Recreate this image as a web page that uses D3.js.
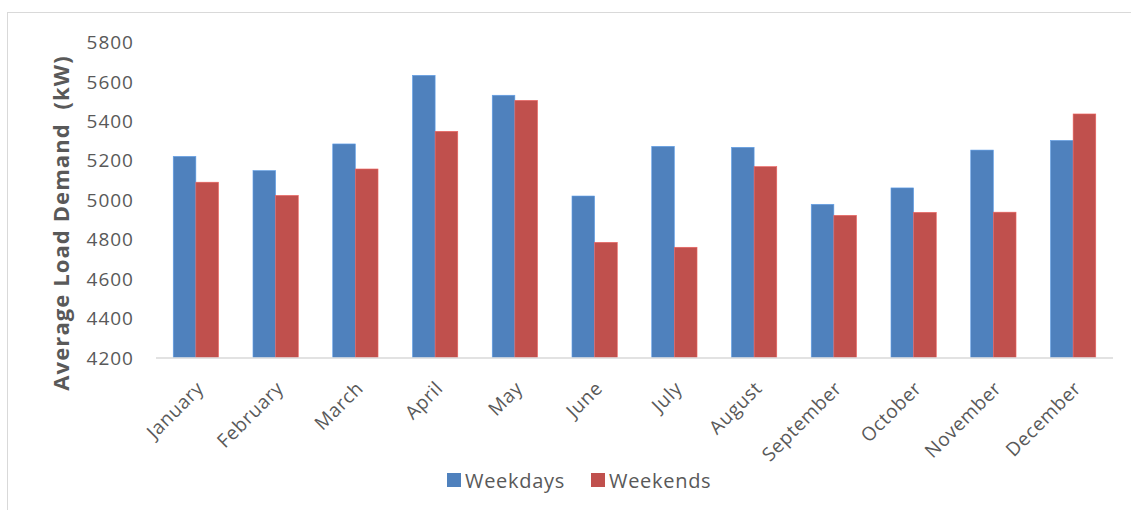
<!DOCTYPE html>
<html>
<head>
<meta charset="utf-8">
<script src="https://cdn.jsdelivr.net/npm/d3@7"></script>
<style>
  html, body { margin: 0; padding: 0; background: #fff; }
  svg { display: block; }
  text { font-family: "Open Sans", sans-serif; fill: #595959; }
</style>
</head>
<body>
<svg id="chart" width="1131" height="510"></svg>
<script>
const months = ["January","February","March","April","May","June","July","August","September","October","November","December"];
const weekdays = [5220, 5148, 5283, 5631, 5530, 5019, 5271, 5266, 4977, 5060, 5252, 5301];
const weekends = [5089, 5022, 5156, 5347, 5504, 4784, 4759, 5168, 4921, 4936, 4937, 5435];
const seriesNames = ["Weekdays", "Weekends"];
const seriesColors = ["#4F81BD", "#C0504D"];
const yTicks = [4200, 4400, 4600, 4800, 5000, 5200, 5400, 5600, 5800];

const svg = d3.select("#chart");

// outer frame
svg.append("rect").attr("x", 7.5).attr("y", 12.5).attr("width", 1140).attr("height", 520)
  .attr("fill", "none").attr("stroke", "#d9d9d9").attr("stroke-width", 1);

const plot = { left: 156, right: 1113, top: 42, bottom: 357.5 };

const x = d3.scaleBand().domain(months).range([plot.left, plot.right]).padding(0);
const y = d3.scaleLinear().domain([4200, 5800]).range([plot.bottom, plot.top]);

const barW = x.bandwidth() * 0.284;
const series = [weekdays, weekends];

series.forEach((vals, si) => {
  svg.append("g").selectAll("rect").data(months).join("rect")
    .attr("x", m => x(m) + x.bandwidth() / 2 - barW + si * barW)
    .attr("y", (m, i) => y(vals[i]))
    .attr("width", barW)
    .attr("height", (m, i) => y(4200) - y(vals[i]))
    .attr("fill", seriesColors[si])
    .attr("stroke", d3.color(seriesColors[si]).brighter(0.6))
    .attr("stroke-width", 0.6);
});

// x axis line
svg.append("line").attr("x1", plot.left).attr("x2", plot.right)
  .attr("y1", plot.bottom + 0.5).attr("y2", plot.bottom + 0.5)
  .attr("stroke", "#d9d9d9").attr("stroke-width", 1.5);

// y axis labels
const yAxis = d3.axisLeft(y).tickValues(yTicks).tickSize(0).tickPadding(0).tickFormat(d3.format("d"));
const yg = svg.append("g").attr("transform", `translate(134,0)`).call(yAxis);
yg.select(".domain").remove();
yg.selectAll("text").attr("font-size", 19).attr("letter-spacing", 1)
  .style("font-family", '"Open Sans", sans-serif').attr("fill", "#595959").attr("dy", "0.35em");

// x axis labels
const xAxis = d3.axisBottom(x).tickSize(0).tickPadding(0);
const xg = svg.append("g").attr("transform", `translate(0,${plot.bottom})`).call(xAxis);
xg.select(".domain").remove();
xg.selectAll("text")
  .attr("font-size", 19)
  .attr("letter-spacing", 0.6)
  .style("font-family", '"Open Sans", sans-serif')
  .attr("fill", "#595959")
  .attr("text-anchor", "end")
  .attr("dy", null).attr("y", 0)
  .attr("transform", "translate(9,32) rotate(-45)");

// y title
svg.append("text")
  .attr("transform", `translate(69,223) rotate(-90)`)
  .attr("text-anchor", "middle")
  .attr("font-size", 22).attr("font-weight", "bold")
  .attr("letter-spacing", 1.1)
  .attr("xml:space", "preserve")
  .style("white-space", "pre")
  .text("Average Load Demand  (kW)");

// legend
const legendItems = [{ x: 447 }, { x: 591 }];
seriesNames.forEach((name, i) => {
  const g = svg.append("g").attr("transform", `translate(${legendItems[i].x},473)`);
  g.append("rect").attr("width", 14).attr("height", 14).attr("fill", seriesColors[i]);
  g.append("text").attr("x", 18).attr("y", 8).attr("dy", "0.35em")
    .attr("font-size", 20).attr("letter-spacing", 0.7).text(name);
});
</script>
</body>
</html>
